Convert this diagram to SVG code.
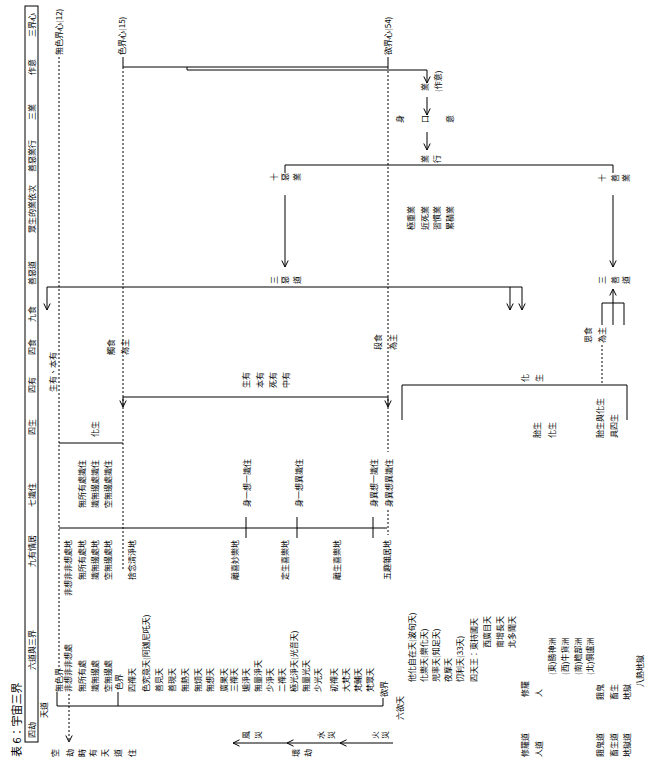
<svg xmlns="http://www.w3.org/2000/svg" width="664" height="760" viewBox="0 0 664 760">
<style>
text{font-family:"Noto Sans CJK TC","Noto Sans CJK SC",sans-serif;font-size:8px;fill:#000}
.title{font-size:11px}
.ln{stroke:#000;stroke-width:1;fill:none}
.ds{stroke:#000;stroke-width:1;fill:none;stroke-dasharray:2 2}
.ar{marker-end:url(#ah)}
.e{text-anchor:end}
</style>
<defs>
<marker id="ah" markerWidth="9" markerHeight="9" refX="7" refY="4" orient="auto" markerUnits="userSpaceOnUse"><path d="M0.5,0.8 L7,4 L0.5,7.2" fill="none" stroke="#000" stroke-width="1"/></marker>
</defs>
<rect width="664" height="760" fill="#fff"/>
<rect id="header-box" x="25" y="6" width="13" height="736" class="ln"/>
<g id="connectors">
<path class="ds" d="M59,57 V673"/>
<path class="ln" d="M123,57 V67 H388 V57"/>
<path class="ds" d="M123,67 V570"/>
<path class="ds" d="M388,67 V452 M388,510 V535"/>
<path class="ln ar" d="M187,67 V70 H427 V83"/>
<path class="ln ar" d="M427,97 V115"/>
<path class="ln ar" d="M427,132 V150"/>
<path class="ln" d="M285,173 V165 H613 V173"/>
<path class="ln ar" d="M285,195 V267"/>
<path class="ln ar" d="M613,195 V267"/>
<path class="ln" d="M47,287 H522"/>
<path class="ln ar" d="M47,287 V310"/>
<path class="ln ar" d="M510,287 V310"/>
<path class="ln ar" d="M522,287 V310"/>
<path class="ln" d="M602,325 V303 H624 V325"/>
<path class="ln ar" d="M613,325 V289"/>
<path class="ds" d="M602,345 V385"/>
<path class="ln" d="M402,420 V385 H627 V420"/>
<path class="ln" d="M123,397 H388"/>
<path class="ln ar" d="M123,397 V407"/>
<path class="ln ar" d="M388,397 V407"/>
<path class="ln" d="M59,443 H123"/>
<path class="ln" d="M59,528 H387"/>
<path class="ln" d="M246,517 V538 M297,517 V538 M373,517 V538"/>
<path class="ln" d="M57,692 V706 H383 V698 M118,692 V706"/>
<path class="ds ar" d="M69,694 V742"/>
<path class="ln ar" d="M393,743 H340"/>
<path class="ln ar" d="M340,743 H287"/>
<path class="ln ar" d="M287,743 H233"/>
</g>
<g id="labels" transform="translate(0,760) rotate(-90)">
<g id="title"><text class="title" x="3" y="21">表 6：宇宙三界</text></g>
<g id="header">
<text x="723" y="35">三界心</text>
<text x="685" y="35">作意</text>
<text x="640" y="35">三業</text>
<text x="588" y="35">善惡業行</text>
<text x="527" y="35">眾生的業依次</text>
<text x="475" y="35">善惡道</text>
<text x="438" y="35">九食</text>
<text x="405" y="35">四食</text>
<text x="367" y="35">四有</text>
<text x="325" y="35">四生</text>
<text x="253" y="35">七識住</text>
<text x="193" y="35">九有情居</text>
<text x="90" y="35">六道與三界</text>
<text x="22" y="35">四劫</text>
</g>
<g id="minds">
<text x="705" y="62">無色界心(12)</text>
<text x="705" y="125">色界心(15)</text>
<text x="705" y="391">欲界心(54)</text>
</g>
<g id="karma">
<text x="668" y="441">(作意)</text>
<text x="669" y="428">業</text>
<text x="637" y="403">身</text>
<text x="637" y="428">口</text>
<text x="637" y="453">意</text>
<text x="597" y="428">業</text>
<text x="597" y="440">行</text>
<text x="579 579 579" y="277 288 300">十惡業</text>
<text x="578 578 578" y="605 618 629">十善業</text>
<text x="530" y="414">極重業</text>
<text x="530" y="428">近死業</text>
<text x="530" y="440">習慣業</text>
<text x="530" y="453">累積業</text>
<text x="476 476 476" y="277 288 300">三惡道</text>
<text x="476 476 476" y="605 618 629">三善道</text>
</g>
<g id="foods">
<text x="405" y="114">觸食</text>
<text x="405" y="128">為主</text>
<text x="410" y="381">段食</text>
<text x="410" y="396">為主</text>
<text x="417" y="591">思食</text>
<text x="417" y="605">為主</text>
</g>
<g id="existences">
<text x="368" y="56">生有、本有</text>
<text x="372" y="249">生有</text>
<text x="372" y="263">本有</text>
<text x="372" y="276">死有</text>
<text x="372" y="289">中有</text>
<text x="378 378" y="528 542">化生</text>
</g>
<g id="births">
<text x="323" y="98">化生</text>
<text x="322" y="540">胎生</text>
<text x="322" y="555">化生</text>
<text x="322" y="603">胎生與化生</text>
<text x="322" y="617">具四生</text>
</g>
<g id="consciousness">
<text x="252" y="85">無所有處識住</text>
<text x="252" y="98">識無邊處識住</text>
<text x="252" y="111">空無邊處識住</text>
<text x="253" y="250">身一想一識住</text>
<text x="253" y="302">身一想異識住</text>
<text x="253" y="377">身異想一識住</text>
<text x="253" y="392">身異想異識住</text>
</g>
<g id="abodes">
<text class="e" x="220" y="71">非想非非想處地</text>
<text class="e" x="220" y="85">無所有處地</text>
<text class="e" x="220" y="98">識無邊處地</text>
<text class="e" x="220" y="111">空無邊處地</text>
<text class="e" x="220" y="135">捨念清淨地</text>
<text class="e" x="220" y="238">離喜妙樂地</text>
<text class="e" x="220" y="288">定生喜樂地</text>
<text class="e" x="220" y="340">離生喜樂地</text>
<text class="e" x="220" y="390">五趣雜居地</text>
</g>
<g id="realms">
<text x="42" y="47">天道</text>
<text x="68" y="62">無色界</text>
<text x="68" y="71">非想非非想處</text>
<text x="68" y="85">無所有處</text>
<text x="68" y="98">識無邊處</text>
<text x="68" y="111">空無邊處</text>
<text x="70" y="122">色界</text>
<text x="68" y="135">四禪天</text>
<text x="68" y="149">色究竟天(阿迦尼吒天)</text>
<text x="68" y="162">善見天</text>
<text x="68" y="175">善現天</text>
<text x="68" y="188">無熱天</text>
<text x="68" y="201">無煩天</text>
<text x="68" y="213">無想天</text>
<text x="68" y="227">廣果天</text>
<text x="68" y="237">三禪天</text>
<text x="68" y="249">遍淨天</text>
<text x="68" y="261">無量淨天</text>
<text x="68" y="273">少淨天</text>
<text x="68" y="285">二禪天</text>
<text x="68" y="297">極光淨天(光音天)</text>
<text x="68" y="309">無量光天</text>
<text x="68" y="321">少光天</text>
<text x="68" y="337">初禪天</text>
<text x="68" y="349">大梵天</text>
<text x="68" y="361">梵輔天</text>
<text x="68" y="373">梵眾天</text>
<text x="63" y="387">欲界</text>
<text x="40" y="403">六欲天</text>
<text x="78" y="415">他化自在天(波旬天)</text>
<text x="78" y="427">化樂天(樂化天)</text>
<text x="78" y="439">兜率天(知足天)</text>
<text x="78" y="451">夜摩天</text>
<text x="78" y="463">忉利天(33天)</text>
<text x="78" y="477">四天王：東持國天</text>
<text x="112" y="490">西廣目天</text>
<text x="112" y="503">南增長天</text>
<text x="112" y="515">北多聞天</text>
<text x="63" y="528">修羅</text>
<text x="63" y="542">人</text>
<text x="85" y="555">(東)勝神洲</text>
<text x="85" y="568">(西)牛貨洲</text>
<text x="85" y="581">(南)瞻部洲</text>
<text x="85" y="593">(北)俱盧洲</text>
<text x="60" y="603">餓鬼</text>
<text x="60" y="617">畜生</text>
<text x="60" y="630">地獄</text>
<text x="73" y="643">八熱地獄</text>
<text x="3" y="528">修羅道</text>
<text x="3" y="542">人道</text>
<text x="3" y="603">餓鬼道</text>
<text x="3" y="617">畜生道</text>
<text x="3" y="630">地獄道</text>
</g>
<g id="kalpas">
<text x="3 3 3 3 3 3 3" y="58 73 85 96 108 121 135">空劫時有天道住</text>
<text x="21 21" y="249 261">風災</text>
<text x="21 21" y="324 334">水災</text>
<text x="21 21" y="378 388">火災</text>
<text x="3 3" y="299 311">壞劫</text>
</g>
</g>
</svg>
